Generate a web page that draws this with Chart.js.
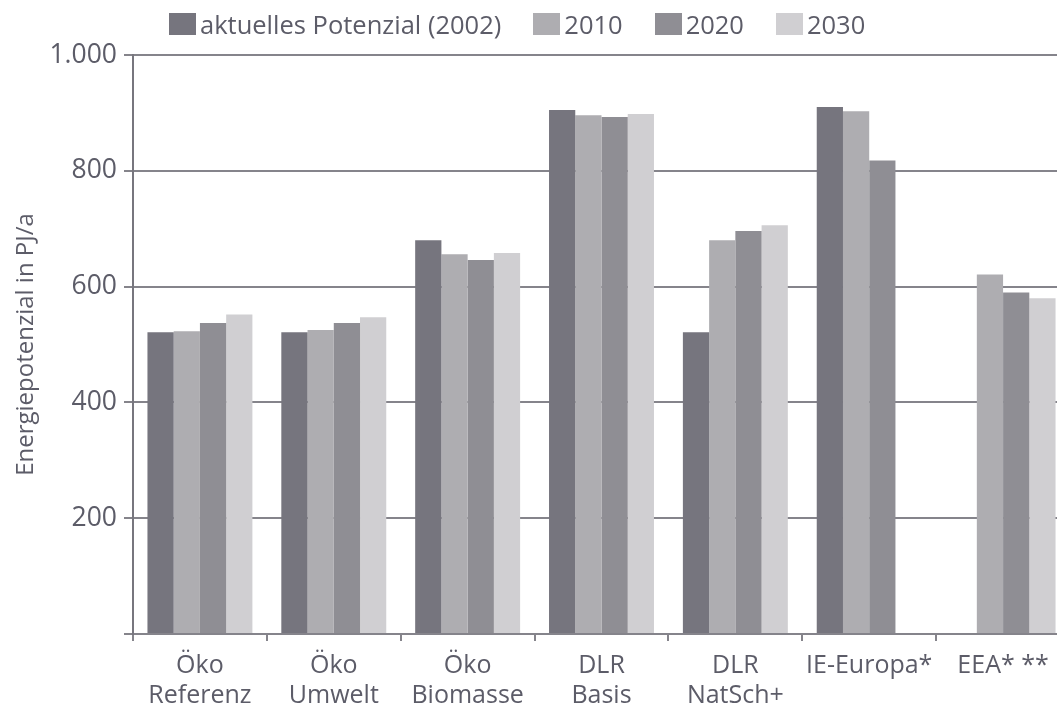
<!DOCTYPE html>
<html>
<head>
<meta charset="utf-8">
<script src="https://cdn.jsdelivr.net/npm/chart.js@4/dist/chart.umd.min.js"></script>
<style>
  html, body { margin: 0; padding: 0; background: #ffffff; overflow: hidden; }
  #wrap { position: relative; width: 1072px; height: 708px; }
  #legend { position: absolute; left: 169px; top: 7px; display: flex; align-items: center;
            font-family: "Open Sans", sans-serif; font-size: 25.5px; color: #5c5c68; white-space: nowrap; }
  .item { display: flex; align-items: center; margin-right: 32px; }
  .box { width: 27px; height: 22px; margin-right: 4px; }
</style>
</head>
<body>
<div id="wrap">
  <canvas id="c" width="1072" height="708"></canvas>
  <div id="legend"></div>
</div>
<script>
const categories = [["Öko", "Referenz"], ["Öko", "Umwelt"], ["Öko", "Biomasse"], ["DLR", "Basis"], ["DLR", "NatSch+"], "IE-Europa*", "EEA* **"];
const seriesNames = ["aktuelles Potenzial (2002)", "2010", "2020", "2030"];
const values2002 = [521, 521, 680, 905, 521, 910, null];
const values2010 = [523, 525, 656, 896, 680, 903, 621];
const values2020 = [537, 537, 646, 893, 696, 818, 590];
const values2030 = [552, 547, 658, 898, 706, null, 580];
const yTickValues = [0, 200, 400, 600, 800, 1000];
const yTitle = "Energiepotenzial in PJ/a";
const colors = ["#76757e", "#aeadb1", "#8f8e94", "#d0cfd2"];

const seriesValues = [values2002, values2010, values2020, values2030];
const textColor = "#5c5c68";
const gridColor = "#85848b";

const chart = new Chart(document.getElementById("c"), {
  type: "bar",
  data: {
    labels: categories,
    datasets: seriesNames.map((name, i) => ({
      label: name,
      data: seriesValues[i],
      backgroundColor: colors[i],
      borderWidth: 0,
      categoryPercentage: 0.784,
      barPercentage: 1.0
    }))
  },
  options: {
    responsive: false,
    animation: false,
    devicePixelRatio: 1,
    layout: { padding: { top: 55, right: 2, left: 0, bottom: 0 } },
    plugins: { legend: { display: false }, tooltip: { enabled: false } },
    scales: {
      x: {
        grid: { display: true, drawOnChartArea: false, drawTicks: true, tickLength: 7, color: gridColor, lineWidth: 2, offset: true },
        border: { display: true, color: gridColor, width: 2 },
        ticks: { color: textColor, font: { family: "Open Sans", size: 25, lineHeight: 1.2 }, padding: 10, maxRotation: 0, autoSkip: false },
        afterFit: (s) => { s.height = 74; }
      },
      y: {
        min: 0, max: 1000,
        afterBuildTicks: (s) => { s.ticks = yTickValues.map(v => ({ value: v })); },
        grid: { color: gridColor, lineWidth: 2, tickLength: 9, drawTicks: true },
        border: { display: true, color: "#77767e", width: 2 },
        ticks: {
          color: textColor, font: { family: "Open Sans", size: 26.5 }, padding: 7,
          callback: (v) => v === 0 ? "" : v.toLocaleString("de-DE")
        },
        title: { display: true, text: yTitle, color: textColor, font: { family: "Open Sans", size: 24 }, padding: { top: 12, bottom: 0 } },
        afterFit: (s) => { s.width = 133; }
      }
    }
  }
});

const legend = document.getElementById("legend");
chart.data.datasets.forEach((ds) => {
  const item = document.createElement("div");
  item.className = "item";
  const box = document.createElement("div");
  box.className = "box";
  box.style.background = ds.backgroundColor;
  const txt = document.createElement("span");
  txt.textContent = ds.label;
  item.appendChild(box);
  item.appendChild(txt);
  legend.appendChild(item);
});
</script>
</body>
</html>
